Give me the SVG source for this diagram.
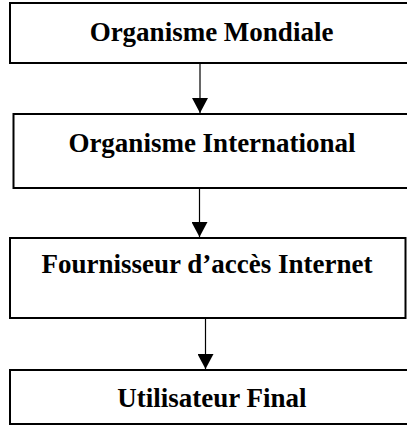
<svg xmlns="http://www.w3.org/2000/svg" width="407" height="427" viewBox="0 0 407 427">
<style>
.box{fill:#fff;stroke:#000;stroke-width:2}
.lbl{font-family:"Liberation Serif","Times New Roman",serif;font-weight:bold;font-size:27px;fill:#000;text-anchor:middle}
.con{stroke:#000;stroke-width:1.2;fill:none}
</style>
<defs>
<marker id="ah" markerUnits="userSpaceOnUse" markerWidth="16" markerHeight="16" viewBox="0 0 16 16" refX="15" refY="8" orient="auto">
<path d="M0,0 L15,8 L0,16 Z" fill="#000"/>
</marker>
</defs>
<rect width="407" height="427" fill="#fff"/>
<g id="connectors">
<line class="con" x1="200" y1="63" x2="200" y2="113" marker-end="url(#ah)"/>
<line class="con" x1="199.5" y1="188" x2="199.5" y2="237" marker-end="url(#ah)"/>
<line class="con" x1="205.5" y1="318" x2="205.5" y2="369" marker-end="url(#ah)"/>
</g>
<g id="n1">
<rect class="box" x="10" y="3" width="402" height="60"/>
<text class="lbl" x="211.5" y="41">Organisme Mondiale</text>
</g>
<g id="n2">
<rect class="box" x="13.5" y="114" width="399" height="74"/>
<text class="lbl" x="212" y="151.5">Organisme International</text>
</g>
<g id="n3">
<rect class="box" x="10" y="238" width="395.5" height="80"/>
<text class="lbl" x="207" y="273">Fournisseur d’accès Internet</text>
</g>
<g id="n4">
<rect class="box" x="10" y="370" width="402" height="54"/>
<text class="lbl" x="212" y="407">Utilisateur Final</text>
</g>
</svg>
